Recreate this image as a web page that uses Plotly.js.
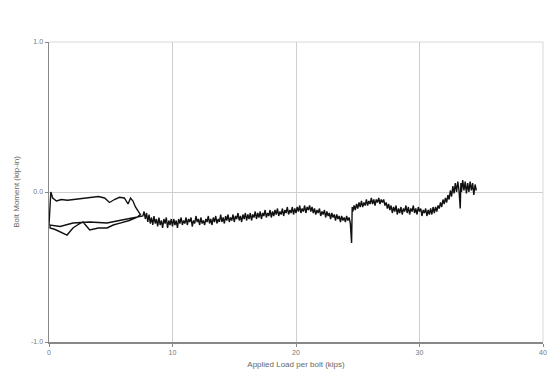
<!DOCTYPE html>
<html><head><meta charset="utf-8">
<script src="https://cdn.plot.ly/plotly-3.0.1.min.js"></script>
<style>body{margin:0;background:#fff}#c{width:548px;height:379px}</style>
</head><body><div id="c"></div>
<script>
// Initial load (upper path)
const loadX = [0, 0.15, 0.3, 0.6, 1.0, 1.5, 2.0, 2.5, 3.0, 3.5, 4.0, 4.5, 4.9, 5.3, 5.7, 6.1, 6.4, 6.6, 6.8, 7.0, 7.4];
const loadY = [-0.22, 0.0, -0.04, -0.06, -0.05, -0.055, -0.05, -0.045, -0.04, -0.035, -0.03, -0.04, -0.07, -0.05, -0.035, -0.04, -0.08, -0.04, -0.06, -0.1, -0.15];
// Unload back to zero
const unloadX = [7.4, 7.1, 6.5, 5.75, 5.2, 4.7, 4.0, 3.3, 2.75, 2.3, 1.94, 1.46, 1.0, 0.5, 0.08];
const unloadY = [-0.15, -0.17, -0.19, -0.207, -0.22, -0.24, -0.24, -0.253, -0.2, -0.22, -0.24, -0.287, -0.27, -0.25, -0.24];
// Reload
const reloadX = [0.08, 0.9, 1.94, 3.3, 4.7, 5.9, 7.1, 7.5];
const reloadY = [-0.22, -0.23, -0.207, -0.2, -0.207, -0.187, -0.167, -0.16];
// Main loading
const mainX = [7.6,7.7,7.8,7.9,8.0,8.1,8.2,8.3,8.4,8.5,8.6,8.7,8.8,8.9,9.0,9.1,9.2,9.3,9.4,9.5,9.6,9.7,9.8,9.9,10.0,
10.1,10.2,10.3,10.4,10.5,10.6,10.7,10.8,10.9,11.0,11.1,11.2,11.3,11.4,11.5,11.6,11.7,11.8,11.9,12.0,12.1,12.2,12.3,12.4,12.5,12.6,12.7,12.8,12.9,13.0,13.1,13.2,13.3,13.4,13.5,13.6,13.7,13.8,13.9,14.0,
14.1,14.2,14.3,14.4,14.5,14.6,14.7,14.8,14.9,15.0,15.1,15.2,15.3,15.4,15.5,15.6,15.7,15.8,15.9,16.0,16.1,16.2,16.3,16.4,16.5,16.6,16.7,16.8,16.9,17.0,17.1,17.2,17.3,17.4,17.5,17.6,17.7,17.8,17.9,18.0,
18.1,18.2,18.3,18.4,18.5,18.6,18.7,18.8,18.9,19.0,19.1,19.2,19.3,19.4,19.5,19.6,19.7,19.8,19.9,20.0,20.1,20.2,20.3,20.4,20.5,20.6,20.7,20.8,20.9,21.0,21.1,21.2,
21.3,21.4,21.5,21.6,21.7,21.8,21.9,22.0,22.1,22.2,22.3,22.4,22.5,22.6,22.7,22.8,22.9,23.0,23.1,23.2,23.3,23.4,23.5,23.6,23.7,23.8,23.9,24.0,24.1,24.2,24.3,24.4,24.5,24.55,
24.6,24.7,24.8,24.9,25.0,25.1,25.2,25.3,25.4,25.5,25.6,25.7,25.8,25.9,26.0,26.1,26.2,26.3,26.4,26.5,26.6,26.7,26.8,26.9,27.0,27.1,27.2,
27.3,27.4,27.5,27.6,27.7,27.8,27.9,28.0,28.1,28.2,28.3,28.4,28.5,28.6,28.7,28.8,28.9,29.0,29.1,29.2,29.3,29.4,29.5,29.6,29.7,29.8,29.9,30.0,30.1,30.2,30.3,30.4,30.5,30.6,30.7,30.8,30.9,31.0,31.1,31.2,31.3,31.4,
31.5,31.6,31.7,31.8,31.9,32.0,32.1,32.2,32.3,32.4,32.5,32.6,32.7,32.8,32.9,33.0,33.1,33.2,33.3,33.35,33.4,33.5,33.6,33.7,33.8,33.9,34.0,34.1,34.2,34.3,34.4,34.5,34.6];
const mainY = [-0.16,-0.13,-0.18,-0.14,-0.2,-0.15,-0.21,-0.17,-0.22,-0.16,-0.21,-0.18,-0.23,-0.17,-0.22,-0.19,-0.24,-0.18,-0.21,-0.17,-0.24,-0.19,-0.22,-0.18,-0.23,
-0.18,-0.22,-0.19,-0.24,-0.18,-0.21,-0.17,-0.22,-0.19,-0.21,-0.17,-0.22,-0.18,-0.2,-0.17,-0.23,-0.19,-0.21,-0.16,-0.2,-0.18,-0.22,-0.17,-0.21,-0.19,-0.22,-0.18,-0.2,-0.16,-0.21,-0.18,-0.22,-0.17,-0.2,-0.16,-0.21,-0.18,-0.2,-0.15,-0.2,
-0.17,-0.21,-0.16,-0.19,-0.15,-0.2,-0.17,-0.19,-0.15,-0.2,-0.16,-0.18,-0.14,-0.19,-0.16,-0.2,-0.15,-0.18,-0.14,-0.19,-0.15,-0.18,-0.14,-0.19,-0.15,-0.17,-0.13,-0.18,-0.14,-0.17,-0.13,-0.18,-0.14,-0.16,-0.12,-0.17,-0.14,-0.16,-0.12,-0.17,
-0.13,-0.16,-0.12,-0.15,-0.11,-0.16,-0.13,-0.15,-0.11,-0.16,-0.12,-0.14,-0.1,-0.15,-0.12,-0.14,-0.1,-0.15,-0.11,-0.14,-0.1,-0.13,-0.09,-0.14,-0.11,-0.13,-0.09,-0.14,-0.1,-0.12,-0.09,-0.13,
-0.1,-0.14,-0.11,-0.15,-0.12,-0.14,-0.11,-0.16,-0.13,-0.15,-0.12,-0.17,-0.13,-0.16,-0.14,-0.18,-0.14,-0.17,-0.15,-0.19,-0.15,-0.18,-0.16,-0.2,-0.16,-0.19,-0.17,-0.2,-0.16,-0.19,-0.17,-0.21,-0.34,-0.1,
-0.13,-0.09,-0.12,-0.08,-0.11,-0.07,-0.1,-0.06,-0.1,-0.07,-0.09,-0.05,-0.09,-0.06,-0.08,-0.04,-0.08,-0.05,-0.09,-0.05,-0.07,-0.04,-0.08,-0.05,-0.07,-0.05,-0.09,
-0.07,-0.11,-0.08,-0.12,-0.09,-0.14,-0.1,-0.13,-0.09,-0.15,-0.11,-0.14,-0.1,-0.15,-0.11,-0.13,-0.09,-0.14,-0.1,-0.15,-0.11,-0.13,-0.09,-0.14,-0.11,-0.15,-0.1,-0.13,-0.11,-0.16,-0.12,-0.14,-0.11,-0.16,-0.12,-0.15,-0.11,-0.15,-0.1,-0.14,-0.1,-0.13,
-0.09,-0.11,-0.07,-0.1,-0.05,-0.08,-0.04,-0.07,-0.02,-0.05,0.01,-0.03,0.04,-0.01,0.06,0.0,0.07,0.01,-0.11,0.06,0.0,0.08,0.01,0.07,-0.01,0.06,0.0,0.07,0.01,0.06,-0.02,0.05,0.01];

const xs = loadX.concat(unloadX, reloadX, mainX);
const ys = loadY.concat(unloadY, reloadY, mainY);

const tickFont = {family: 'Liberation Sans, Arial, sans-serif', size: 7, color: '#777'};
Plotly.newPlot('c', [{
  x: xs, y: ys, type: 'scatter', mode: 'lines',
  line: {color: '#111', width: 1.4}, hoverinfo: 'skip'
}], {
  width: 548, height: 379,
  margin: {l: 49, r: 5, t: 42, b: 37},
  paper_bgcolor: '#fff', plot_bgcolor: '#fff',
  showlegend: false,
  shapes: [
    {type: 'line', xref: 'paper', yref: 'paper', x0: 0, x1: 1, y0: 1, y1: 1, line: {color: '#d8d8d8', width: 1}, layer: 'below'},
    {type: 'line', xref: 'paper', yref: 'paper', x0: 1, x1: 1, y0: 0, y1: 1, line: {color: '#d8d8d8', width: 1}, layer: 'below'}
  ],
  xaxis: {
    range: [0, 40], tickvals: [0, 10, 20, 30, 40], ticktext: ['0', '10', '20', '30', '40'],
    showgrid: true, gridcolor: '#cfcfcf', gridwidth: 1, zeroline: false,
    showline: true, linecolor: '#888', linewidth: 1.5,
    ticks: 'outside', ticklen: 3, tickcolor: '#888',
    tickfont: tickFont,
    title: {text: 'Applied Load per bolt (kips)', font: {family: 'Liberation Sans, Arial, sans-serif', size: 8, color: '#666'}, standoff: 6}
  },
  yaxis: {
    range: [-1, 1], tickvals: [-1, 0, 1], ticktext: ['-1.0', '0.0', '1.0'],
    showgrid: true, gridcolor: '#cfcfcf', gridwidth: 1, zeroline: false,
    showline: true, linecolor: '#888', linewidth: 1.5,
    ticks: 'outside', ticklen: 3, tickcolor: '#888',
    tickfont: tickFont,
    title: {text: 'Bolt Moment (kip-in)', font: {family: 'Liberation Sans, Arial, sans-serif', size: 8, color: '#666'}, standoff: 10}
  }
}, {staticPlot: true});
</script></body></html>
